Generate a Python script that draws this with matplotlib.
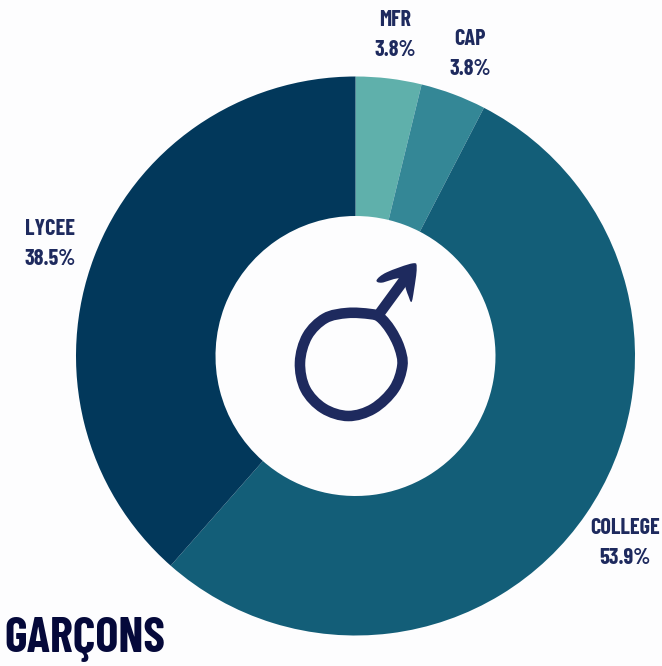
import matplotlib
matplotlib.use("Agg")
import matplotlib.pyplot as plt
from matplotlib.path import Path
from matplotlib.patches import PathPatch

categories = ["MFR", "CAP", "COLLEGE", "LYCEE"]
values = [3.8, 3.8, 53.9, 38.5]
colors = ["#5FB0AB", "#348796", "#135E78", "#02385B"]
label_pos = [(395, 35), (470, 54), (625, 543), (50, 244)]
BG = "#FDFDFE"
INK = "#1E2A5E"
FONT = ["Barlow Condensed", "Roboto", "DejaVu Sans"]

W, H = 662, 666
fig = plt.figure(figsize=(W / 100, H / 100), dpi=100, facecolor=BG)
ax = fig.add_axes([0, 0, 1, 1])

ax.pie(values, colors=colors, center=(355.5, H - 356), radius=279.5, startangle=90,
       counterclock=False, wedgeprops=dict(width=139.5, linewidth=0), frame=True)
ax.set_xlim(0, W)
ax.set_ylim(0, H)
ax.set_aspect("equal")
ax.axis("off")

for c, v, (x, y) in zip(categories, values, label_pos):
    ax.text(x, H - y, f"{c}\n{v}%", ha="center", va="center", color=INK, fontsize=16,
            fontweight="bold", family=FONT, linespacing=1.62)

ax.text(4, H - 640, "GARÇONS", ha="left", va="center", color="#05093A", fontsize=35,
        fontweight="bold", family=FONT)


def to_px(pts):
    return [(270 + x / 3, H - (240 + y / 3)) for x, y in pts]


def smooth(pts):
    n = len(pts)
    verts = [pts[0]]
    codes = [Path.MOVETO]
    for i in range(n):
        p0 = pts[(i - 1) % n]
        p1 = pts[i]
        p2 = pts[(i + 1) % n]
        p3 = pts[(i + 2) % n]
        verts += [(p1[0] + (p2[0] - p0[0]) / 6, p1[1] + (p2[1] - p0[1]) / 6),
                  (p2[0] - (p3[0] - p1[0]) / 6, p2[1] - (p3[1] - p1[1]) / 6),
                  p2]
        codes += [Path.CURVE4] * 3
    return Path(verts, codes)


ring = to_px([(300, 222), (232, 219), (165, 235), (112, 288), (90, 367), (106, 447),
              (160, 505), (235, 528), (310, 506), (372, 447), (397, 377), (388, 322),
              (362, 270), (330, 232)])
ax.add_patch(PathPatch(smooth(ring), fill=False, edgecolor=INK, linewidth=7.6))
shaft = to_px([(326, 224), (408, 112)])
ax.plot([p[0] for p in shaft], [p[1] for p in shaft], color=INK, linewidth=7.6, solid_capstyle="butt")
head = to_px([(320, 120), (350, 97), (428, 70), (440, 85), (432, 150), (424, 186),
              (412, 160), (392, 116), (335, 128)])
ax.add_patch(PathPatch(smooth(head), facecolor=INK, edgecolor="none"))

fig.savefig("out.png", dpi=100, facecolor=BG)
